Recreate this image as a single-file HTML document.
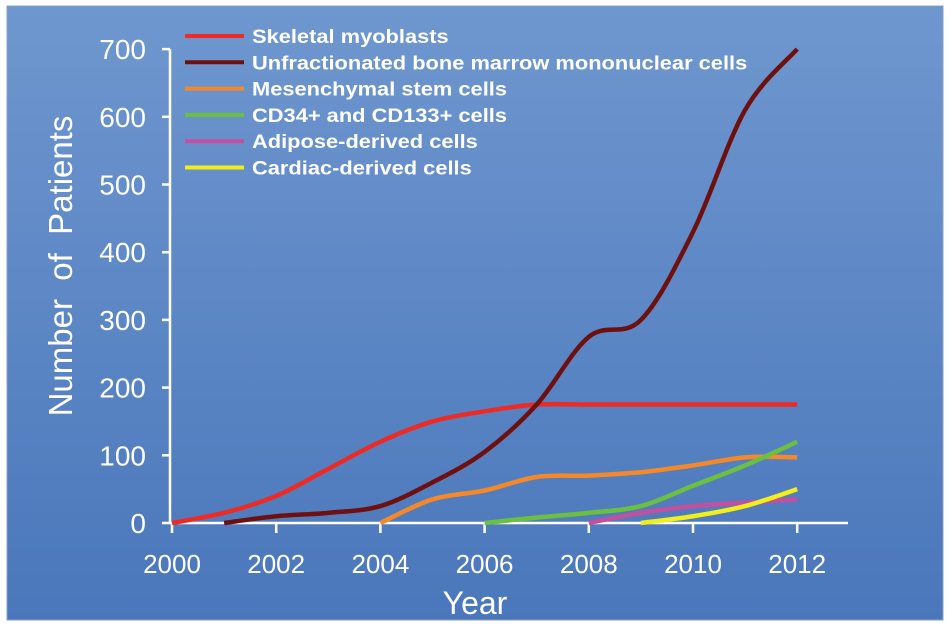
<!DOCTYPE html>
<html><head><meta charset="utf-8"><style>
html,body{margin:0;padding:0;background:#fff;width:951px;height:628px;overflow:hidden}
svg{display:block;font-family:"Liberation Sans",sans-serif}
</style></head><body>
<svg id="chart" width="951" height="628">
<defs><linearGradient id="bg" x1="0" y1="0" x2="0" y2="1"><stop offset="0" stop-color="#6f97cf"/><stop offset="1" stop-color="#4a77bb"/></linearGradient></defs>
<rect x="7" y="6" width="936" height="614" fill="url(#bg)" stroke="#8aa0c0" stroke-width="1"/>
<g id="axes"></g><g id="series"></g><g id="legend"></g>
<text x="475" y="614" fill="#fff" font-size="32" text-anchor="middle">Year</text>
<text transform="translate(72,266) rotate(-90)" fill="#fff" font-size="33" text-anchor="middle">Number&#160; of&#160; Patients</text>
</svg>
<script>
const xTicks=[2000,2002,2004,2006,2008,2010,2012];
const yTicks=[0,100,200,300,400,500,600,700];
const seriesNames=["Skeletal myoblasts","Unfractionated bone marrow mononuclear cells","Mesenchymal stem cells","CD34+ and CD133+ cells","Adipose-derived cells","Cardiac-derived cells"];
const seriesColors=["#ee2a24","#6e1010","#f5892a","#6cc040","#c2509e","#f2ee1a"];
const skeletalYears=[2000,2001,2002,2003,2004,2005,2006,2007,2008,2009,2010,2011,2012];
const skeletalVals=[0,15,40,80,120,150,165,175,175,175,175,175,175];
const bmYears=[2001,2002,2003,2004,2005,2006,2007,2008,2009,2010,2011,2012];
const bmVals=[0,10,15,25,60,105,175,275,300,430,610,700];
const mscYears=[2004,2005,2006,2007,2008,2009,2010,2011,2012];
const mscVals=[0,35,48,68,70,75,85,97,97];
const cdYears=[2006,2007,2008,2009,2010,2011,2012];
const cdVals=[0,8,15,25,55,85,120];
const adYears=[2008,2009,2010,2011,2012];
const adVals=[0,15,25,30,35];
const cardYears=[2009,2010,2011,2012];
const cardVals=[0,10,25,50];
const allYears=[skeletalYears,bmYears,mscYears,cdYears,adYears,cardYears];
const allVals=[skeletalVals,bmVals,mscVals,cdVals,adVals,cardVals];
const NS="http://www.w3.org/2000/svg";
const X=y=>172+(y-2000)*52.1;
const Y=v=>523-v*0.677;
function mk(t,a,p){const e=document.createElementNS(NS,t);for(const k in a)e.setAttribute(k,a[k]);p.appendChild(e);return e;}
const ax=document.getElementById('axes');
let l=mk('line',{x1:170,y1:523,x2:848,y2:523,stroke:'#fff','stroke-width':2.5},ax);


l=mk('line',{x1:170,y1:Y(700),x2:170,y2:523,stroke:'#fff','stroke-width':2.5},ax);


xTicks.forEach(t=>{mk('line',{x1:X(t),y1:523,x2:X(t),y2:533,stroke:'#fff','stroke-width':2.5},ax);
const tx=mk('text',{x:X(t),y:573,fill:'#fff','font-size':26,'text-anchor':'middle'},ax);tx.textContent=t;

});
yTicks.forEach(t=>{mk('line',{x1:162,y1:Y(t),x2:170,y2:Y(t),stroke:'#fff','stroke-width':2.5},ax);
const tx=mk('text',{x:146,y:Y(t)+10,fill:'#fff','font-size':28,'text-anchor':'end'},ax);tx.textContent=t;

});
function path(xs,vs){const p=xs.map((x,i)=>[X(x),Y(vs[i])]);let d='M'+p[0][0]+','+p[0][1];
for(let i=0;i<p.length-1;i++){const p0=p[i-1]||p[i],p1=p[i],p2=p[i+1],p3=p[i+2]||p2;
const c1=[p1[0]+(p2[0]-p0[0])/6,p1[1]+(p2[1]-p0[1])/6],c2=[p2[0]-(p3[0]-p1[0])/6,p2[1]-(p3[1]-p1[1])/6];
d+=` C${c1[0]},${c1[1]} ${c2[0]},${c2[1]} ${p2[0]},${p2[1]}`;}return d;}
const sg=document.getElementById('series');
const lg=document.getElementById('legend');
const keys=['skeletal-myoblasts','bone-marrow-cells','mesenchymal-stem-cells','cd34-cd133-cells','adipose-derived-cells','cardiac-derived-cells'];
allYears.forEach((ys,i)=>{const p=mk('path',{d:path(ys,allVals[i]),fill:'none',stroke:seriesColors[i],'stroke-width':4.5,'stroke-linecap':'butt'},sg);


const yy=36+i*26.3;
const g=mk('g',{},lg);


mk('line',{x1:185,y1:yy,x2:244,y2:yy,stroke:seriesColors[i],'stroke-width':4},g);
const t=mk('text',{transform:`translate(252,${yy+7}) scale(1.15,1)`,x:0,y:0,fill:'#fff','font-size':19,'font-weight':'bold'},g);t.textContent=seriesNames[i];});
</script>
</body></html>
